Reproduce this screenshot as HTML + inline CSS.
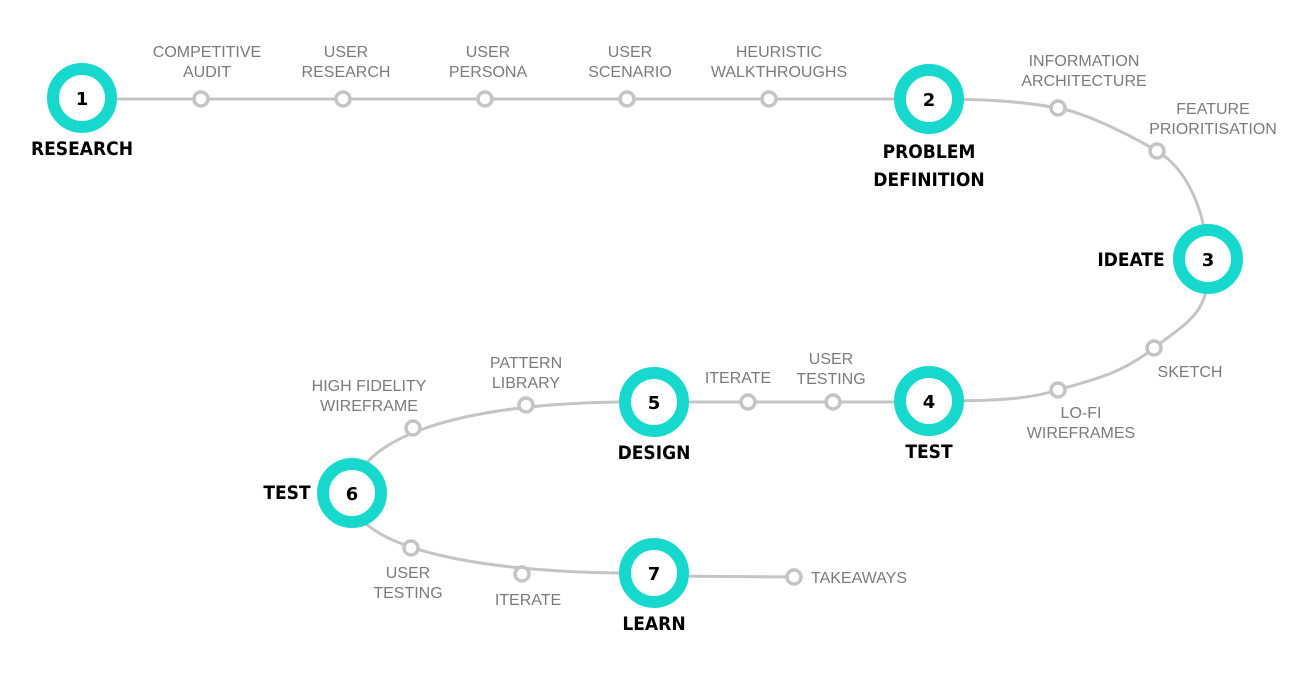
<!DOCTYPE html>
<html><head><meta charset="utf-8"><style>
html,body{margin:0;padding:0;background:#fff}
svg{display:block}
.s{font-family:"Liberation Sans",sans-serif;font-size:16px;fill:#7a7a7a;text-anchor:middle}
.b{font-family:"DejaVu Sans Condensed","Liberation Sans",sans-serif;font-weight:bold;font-size:19px;fill:#000;text-anchor:middle}
.n{font-family:"DejaVu Sans","Liberation Sans",sans-serif;font-weight:bold;font-size:18px;fill:#000;text-anchor:middle}
</style></head><body>
<svg width="1300" height="684" viewBox="0 0 1300 684" xmlns="http://www.w3.org/2000/svg">
<g fill="none" stroke="#c4c4c4" stroke-width="3">
<path d="M82,99 L929,99"/>
<path d="M929,99 C1000,99 1030,103 1058,108 S1130,135 1157,151 S1205,205 1208,259 S1190,320 1154,348 S1090,380 1058,390 S990,401 929,401"/>
<path d="M929,402 L654,402"/>
<path d="M654,402 C450,400 360,440 352,492 C345,545 470,575 654,573"/>
<path d="M654,576 L794,577"/>
</g>
<g fill="#fff" stroke="#c4c4c4" stroke-width="3.5">
<circle cx="201" cy="99" r="7"/><circle cx="343" cy="99" r="7"/><circle cx="485" cy="99" r="7"/><circle cx="627" cy="99" r="7"/><circle cx="769" cy="99" r="7"/>
<circle cx="1058" cy="108" r="7"/><circle cx="1157" cy="151" r="7"/>
<circle cx="1154" cy="348" r="7"/><circle cx="1058" cy="390" r="7"/>
<circle cx="833" cy="402" r="7"/><circle cx="748" cy="402" r="7"/>
<circle cx="526" cy="405" r="7"/><circle cx="413" cy="428" r="7"/>
<circle cx="411" cy="548" r="7"/><circle cx="522" cy="574" r="7"/>
<circle cx="794" cy="577" r="7"/>
</g>
<g fill="#fff" stroke="#17d8cc" stroke-width="12">
<circle cx="82" cy="98" r="29"/><circle cx="929" cy="99" r="29"/><circle cx="1208" cy="259" r="29"/>
<circle cx="929" cy="401" r="29"/><circle cx="654" cy="402" r="29"/><circle cx="352" cy="493" r="29"/><circle cx="654" cy="573" r="29"/>
</g>
<text class="n" x="82" y="105">1</text><text class="n" x="929" y="106">2</text><text class="n" x="1208" y="266">3</text>
<text class="n" x="929" y="408">4</text><text class="n" x="654" y="409">5</text><text class="n" x="352" y="500">6</text><text class="n" x="654" y="580">7</text>
<text class="b" x="82" y="155">RESEARCH</text>
<text class="b" x="929" y="158">PROBLEM</text><text class="b" x="929" y="186">DEFINITION</text>
<text class="b" x="1131" y="266">IDEATE</text>
<text class="b" x="929" y="458">TEST</text>
<text class="b" x="654" y="459">DESIGN</text>
<text class="b" x="287" y="499">TEST</text>
<text class="b" x="654" y="630">LEARN</text>
<text class="s" x="207" y="57">COMPETITIVE</text><text class="s" x="207" y="77">AUDIT</text>
<text class="s" x="346" y="57">USER</text><text class="s" x="346" y="77">RESEARCH</text>
<text class="s" x="488" y="57">USER</text><text class="s" x="488" y="77">PERSONA</text>
<text class="s" x="630" y="57">USER</text><text class="s" x="630" y="77">SCENARIO</text>
<text class="s" x="779" y="57">HEURISTIC</text><text class="s" x="779" y="77">WALKTHROUGHS</text>
<text class="s" x="1084" y="66">INFORMATION</text><text class="s" x="1084" y="86">ARCHITECTURE</text>
<text class="s" x="1213" y="114">FEATURE</text><text class="s" x="1213" y="134">PRIORITISATION</text>
<text class="s" x="1190" y="377">SKETCH</text>
<text class="s" x="1081" y="418">LO-FI</text><text class="s" x="1081" y="438">WIREFRAMES</text>
<text class="s" x="831" y="364">USER</text><text class="s" x="831" y="384">TESTING</text>
<text class="s" x="738" y="383">ITERATE</text>
<text class="s" x="526" y="368">PATTERN</text><text class="s" x="526" y="388">LIBRARY</text>
<text class="s" x="369" y="391">HIGH FIDELITY</text><text class="s" x="369" y="411">WIREFRAME</text>
<text class="s" x="408" y="578">USER</text><text class="s" x="408" y="598">TESTING</text>
<text class="s" x="528" y="605">ITERATE</text>
<text class="s" x="859" y="583">TAKEAWAYS</text>
</svg>
</body></html>
